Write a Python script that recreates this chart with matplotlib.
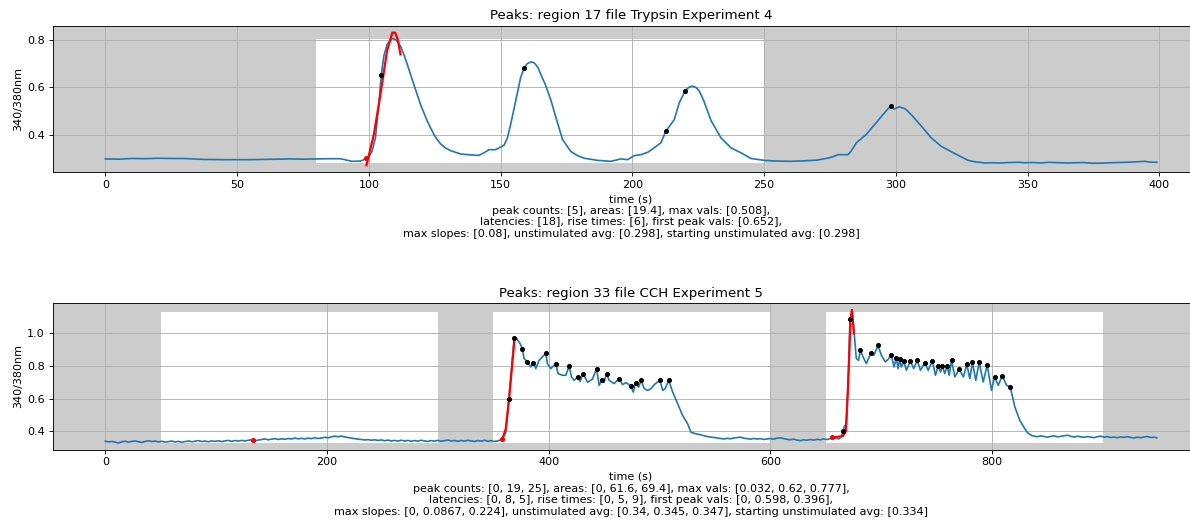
import matplotlib
matplotlib.use("Agg")
import matplotlib.pyplot as plt

# ---- region 17, Trypsin Experiment 4 ----
top_title = "Peaks: region 17 file Trypsin Experiment 4"
top_t = [0, 5, 10, 15, 20, 25, 30, 37, 45, 55, 60, 65, 70, 75, 80, 85, 89.2, 93.6, 96.8, 99.1,
         100.2, 101.2, 102.5, 103.8, 104.7, 105.7, 106.9, 108.9, 110.1, 111, 112, 113.3, 114.6,
         115.8, 117.1, 119.6, 122.2, 124.7, 126, 127.2, 129, 131, 134.8, 138.6, 141.8, 143.7,
         145.6, 148.1, 151.3, 152.6, 153.8, 155.7, 156.7, 157.6, 158.9, 160, 161.4, 162.3, 163.3,
         164.3, 165.2, 167, 169, 171.6, 173.5, 176.6, 179, 181.7, 186.8, 191.8, 195.6,
         198.2, 200.7, 203.2, 205.8, 208.3, 210.8, 212.7, 215.9, 217.8, 220.1, 221.5, 222.9, 224.2,
         225.4, 227, 229.8, 233.6, 237.4, 241.2, 245, 250.1, 255, 260, 265, 270, 274, 276, 278,
         281.8, 283, 285, 288.7, 291.9, 295.1, 298, 299.3, 301.4, 303.6, 305.8, 309.7, 313.4,
         317.2, 322.3, 327.4, 330, 333.7, 336, 340, 343, 346.4, 349, 352, 355, 358, 362, 365.4,
         368, 371, 374, 378, 381, 385, 388, 391, 394.5, 396, 399]
top_v = [0.297, 0.296, 0.299, 0.298, 0.300, 0.299, 0.299, 0.295, 0.294, 0.294, 0.295, 0.296, 0.297,
         0.296, 0.297, 0.298, 0.298, 0.287, 0.288, 0.298,
         0.310, 0.329, 0.386, 0.527, 0.650, 0.731, 0.780, 0.805, 0.801, 0.790, 0.773, 0.738, 0.696,
         0.654, 0.611, 0.527, 0.456, 0.400, 0.378, 0.361, 0.344, 0.332, 0.318, 0.314, 0.312, 0.323,
         0.336, 0.336, 0.355, 0.386, 0.442, 0.541, 0.594, 0.640, 0.680, 0.698, 0.706, 0.705, 0.696,
         0.680, 0.655, 0.610, 0.548, 0.449, 0.379, 0.329, 0.312, 0.300, 0.291, 0.287, 0.297,
         0.294, 0.311, 0.315, 0.325, 0.344, 0.365, 0.414, 0.463, 0.534, 0.586, 0.600, 0.604, 0.598,
         0.583, 0.545, 0.460, 0.386, 0.344, 0.323, 0.299, 0.291, 0.288, 0.287, 0.289, 0.292,
         0.300, 0.306, 0.315, 0.315, 0.330, 0.365, 0.400, 0.442, 0.484, 0.522, 0.508, 0.517,
         0.508, 0.484, 0.435, 0.386, 0.350, 0.320, 0.291, 0.285, 0.280, 0.281, 0.280, 0.282,
         0.283, 0.281, 0.282, 0.280, 0.283, 0.281, 0.280, 0.281, 0.282, 0.279, 0.279, 0.281,
         0.282, 0.283, 0.285, 0.287, 0.284, 0.283]
top_fit_t = [99.1, 101.9, 104.4, 106.9, 108.9, 110, 111, 112]
top_fit_v = [0.270, 0.400, 0.569, 0.752, 0.830, 0.830, 0.800, 0.738]
top_peak_t = [104.7, 158.9, 212.7, 220.1, 298]
top_peak_v = [0.652, 0.680, 0.415, 0.585, 0.522]
top_start_t = [99.1]
top_start_v = [0.300]
top_windows = [(80, 250)]
top_caption = ("time (s)\n"
               "peak counts: [5], areas: [19.4], max vals: [0.508],\n"
               "latencies: [18], rise times: [6], first peak vals: [0.652],\n"
               "max slopes: [0.08], unstimulated avg: [0.298], starting unstimulated avg: [0.298]")

# ---- region 33, CCH Experiment 5 ----
bot_title = "Peaks: region 33 file CCH Experiment 5"
bot_t = [0, 3, 6, 9, 12, 15, 18, 21, 24, 27, 30, 33, 36, 39, 42, 45, 48, 51, 54, 57, 60, 63, 66,
         69, 72, 75, 78, 81, 84, 87, 90, 93, 96, 99, 102, 105, 108, 111, 114, 117, 120, 123, 126,
         129, 133, 135, 138, 141, 144, 147, 150, 153, 156, 159, 162, 165, 168, 171, 174, 177, 180,
         183, 186, 189, 192, 195, 198, 201, 204, 207, 210, 213, 216, 219, 222, 225, 228, 231, 234,
         237, 240, 243, 246, 249, 252, 255, 258, 261, 264, 267, 270, 273, 276, 279, 282, 285, 288,
         291, 294, 297, 300, 303, 306, 309, 312, 315, 318, 321, 324, 327, 330, 333, 336, 339, 342,
         345, 348, 351, 354, 356, 358.2,
         361.2, 364.2, 366.3, 368.7, 371, 374.1, 376.2, 377.7, 380.8, 383.8, 386.2, 388.3, 391.3,
         394.3, 397.3, 398.8, 401.8, 404.3, 406.3, 408.4, 412.4, 415.4, 418.4, 420.5, 422.9, 426,
         428.3, 431, 435, 439.5, 443.1, 445.5, 447.6, 449.9, 452.1, 454.5, 459, 463.3, 466.6,
         469.6, 474.1, 476.2, 478.6, 481, 483.4, 486.1, 489.2, 492.2, 495.2, 500.3, 502.8, 505,
         508.2, 511.8, 516.3, 520.8, 525.3, 528.3, 532, 537.4, 540, 543, 546, 549, 552, 555, 558,
         561, 564, 567, 570, 573, 576, 579, 582, 585, 588, 591, 594, 597, 600, 603, 606, 609, 612,
         615, 618, 621, 624, 627, 630, 633, 636, 639, 642, 645, 648, 651, 654, 656, 659, 662, 664,
         665.4, 666.9, 668.4, 670.5, 671.7, 673.5, 675.3, 677.4,
         679.5, 681, 683.5, 686.5, 690.4, 693.4, 697, 700, 703.6, 706, 709, 711.5, 713.6, 715.1,
         716.6, 718, 720.2, 722.6, 726.2, 729.2, 732.3, 735.3, 739.2, 742.2, 746.1, 748.8, 751.2,
         753.4, 755.1, 757.2, 759.4, 761.2, 763.3, 766.3, 770.2, 774, 777.1, 779.8, 782.2, 785.2,
         788.3, 791.9, 795.5, 799.4, 802.1, 805.5, 809.1, 813, 816.3, 820.5, 825, 829.5, 832,
         835.6, 838, 841, 844, 847, 850, 853, 856, 859, 862, 865, 868, 871, 874, 877, 880, 883,
         886, 889, 892, 895, 898, 901, 904, 907, 910, 913, 916, 919, 922, 925, 928, 931, 934, 937,
         940, 943, 946, 948.5]
bot_v = [0.338, 0.334, 0.337, 0.332, 0.327, 0.335, 0.338, 0.333, 0.337, 0.340, 0.335, 0.331,
         0.337, 0.341, 0.336, 0.339, 0.334, 0.338, 0.333, 0.336, 0.339, 0.334, 0.337, 0.332,
         0.336, 0.340, 0.335, 0.338, 0.342, 0.336, 0.339, 0.335, 0.340, 0.337, 0.341, 0.336,
         0.340, 0.343, 0.338, 0.342, 0.339, 0.343, 0.340, 0.344, 0.348, 0.341, 0.345, 0.349,
         0.352, 0.347, 0.351, 0.354, 0.349, 0.353, 0.350, 0.355, 0.352, 0.357, 0.353, 0.356,
         0.352, 0.357, 0.354, 0.359, 0.355, 0.358, 0.362, 0.359, 0.365, 0.369, 0.366, 0.370,
         0.364, 0.361, 0.357, 0.354, 0.351, 0.349, 0.346, 0.348, 0.344, 0.347, 0.343, 0.346,
         0.341, 0.345, 0.340, 0.343, 0.339, 0.344, 0.340, 0.343, 0.338, 0.342, 0.339, 0.344,
         0.340, 0.337, 0.342, 0.339, 0.343, 0.338, 0.342, 0.345, 0.340, 0.343, 0.338, 0.342,
         0.339, 0.344, 0.340, 0.337, 0.342, 0.339, 0.344, 0.338, 0.341, 0.337, 0.340, 0.345,
         0.352,
         0.393, 0.599, 0.763, 0.969, 0.969, 0.938, 0.907, 0.846, 0.825, 0.794, 0.820, 0.784,
         0.835, 0.856, 0.877, 0.815, 0.784, 0.800, 0.815, 0.753, 0.743, 0.743, 0.800, 0.733,
         0.712, 0.733, 0.706, 0.753, 0.700, 0.720, 0.784, 0.681, 0.712, 0.700, 0.753, 0.712,
         0.692, 0.722, 0.686, 0.698, 0.677, 0.640, 0.698, 0.670, 0.712, 0.661, 0.650, 0.661,
         0.686, 0.712, 0.650, 0.661, 0.712, 0.640, 0.568, 0.496, 0.445, 0.393, 0.385, 0.377,
         0.372, 0.367, 0.364, 0.361, 0.358, 0.355, 0.352, 0.356, 0.353, 0.358, 0.361, 0.363,
         0.357, 0.354, 0.351, 0.355, 0.352, 0.354, 0.349, 0.352, 0.355, 0.351, 0.357, 0.359,
         0.354, 0.350, 0.347, 0.351, 0.345, 0.342, 0.347, 0.344, 0.349, 0.345, 0.350, 0.347,
         0.352, 0.349, 0.354, 0.360, 0.356, 0.353, 0.370,
         0.398, 0.435, 0.435, 0.794, 1.086, 1.131, 1.020, 0.846,
         0.835, 0.897, 0.856, 0.815, 0.877, 0.867, 0.926, 0.867, 0.825, 0.840, 0.866, 0.794,
         0.852, 0.784, 0.840, 0.794, 0.829, 0.774, 0.830, 0.784, 0.835, 0.774, 0.819, 0.774,
         0.830, 0.743, 0.800, 0.763, 0.800, 0.753, 0.800, 0.743, 0.835, 0.733, 0.780, 0.733,
         0.810, 0.722, 0.823, 0.712, 0.823, 0.702, 0.805, 0.650, 0.733, 0.681, 0.741, 0.681,
         0.671, 0.547, 0.465, 0.414, 0.390,
         0.373, 0.369, 0.366, 0.371, 0.367, 0.363, 0.368, 0.371, 0.365, 0.368, 0.372, 0.375,
         0.368, 0.364, 0.369, 0.365, 0.362, 0.367, 0.363, 0.360, 0.366, 0.369, 0.363, 0.366,
         0.361, 0.364, 0.360, 0.365, 0.362, 0.366, 0.361, 0.358, 0.363, 0.360, 0.364, 0.367,
         0.361, 0.363, 0.359]
bot_fit_t = [[358.2, 361.2, 364.2, 367.2, 369.3],
             [654.8, 660, 665.4, 668, 669.9, 672.3, 673.5, 674.7, 675.2]]
bot_fit_v = [[0.353, 0.413, 0.599, 0.825, 0.973],
             [0.363, 0.365, 0.370, 0.40, 0.661, 1.092, 1.144, 1.050, 1.000]]
bot_peak_t = [364.2, 368.7, 376.2, 380.8, 386.2, 397.3, 406.3, 418.4, 426, 431, 443.1, 447.6,
              452.1, 463.3, 474.1, 478.6, 483.4, 500.3, 508.2,
              665.4, 671.7, 681, 690.4, 697, 709, 713.6, 716.6, 720.2, 726.2, 732.3, 739.2,
              746.1, 751.2, 755.1, 759.4, 763.3, 770.2, 777.1, 782.2, 788.3, 795.5, 802.1,
              809.1, 816.3]
bot_peak_v = [0.599, 0.969, 0.907, 0.825, 0.820, 0.877, 0.815, 0.800, 0.733, 0.753, 0.784, 0.712,
              0.753, 0.722, 0.677, 0.698, 0.712, 0.712, 0.712,
              0.398, 1.086, 0.897, 0.877, 0.926, 0.866, 0.852, 0.840, 0.829, 0.830, 0.835, 0.819,
              0.830, 0.800, 0.800, 0.800, 0.835, 0.780, 0.810, 0.823, 0.823, 0.805, 0.733,
              0.741, 0.671]
bot_start_t = [133, 358.2, 655.7]
bot_start_v = [0.348, 0.353, 0.363]
bot_windows = [(50, 300), (350, 600), (650, 900)]
bot_caption = ("time (s)\n"
               "peak counts: [0, 19, 25], areas: [0, 61.6, 69.4], max vals: [0.032, 0.62, 0.777],\n"
               "latencies: [0, 8, 5], rise times: [0, 5, 9], first peak vals: [0, 0.598, 0.396],\n"
               "max slopes: [0, 0.0867, 0.224], unstimulated avg: [0.34, 0.345, 0.347], "
               "starting unstimulated avg: [0.334]")

fig = plt.figure(figsize=(14.875, 6.55), dpi=80)
ax1 = fig.add_axes([0.0443, 0.6718, 0.972, 0.2786])
ax2 = fig.add_axes([0.0443, 0.1418, 0.972, 0.2794])


def draw(ax, t, v, windows, fits_t, fits_v, pk_t, pk_v, st_t, st_v, title, caption):
    ax.set_facecolor("#cccccc")
    lo, hi = min(v), max(v)
    for a, b in windows:
        ax.fill_between([a, b], lo, hi, color="white", zorder=0.5, linewidth=0)
    ax.plot(t, v, color="#1f77b4", linewidth=1.5)
    for ft, fv in zip(fits_t, fits_v):
        ax.plot(ft, fv, color="red", linewidth=2)
    ax.plot(st_t, st_v, "o", color="red", markersize=3.5)
    ax.plot(pk_t, pk_v, "o", color="black", markersize=3.5)
    ax.grid(True)
    ax.set_title(title)
    ax.set_ylabel("340/380nm")
    ax.set_xlabel(caption)


draw(ax1, top_t, top_v, top_windows, [top_fit_t], [top_fit_v], top_peak_t, top_peak_v,
     top_start_t, top_start_v, top_title, top_caption)
draw(ax2, bot_t, bot_v, bot_windows, bot_fit_t, bot_fit_v, bot_peak_t, bot_peak_v,
     bot_start_t, bot_start_v, bot_title, bot_caption)

fig.savefig("out.png", dpi=80)
